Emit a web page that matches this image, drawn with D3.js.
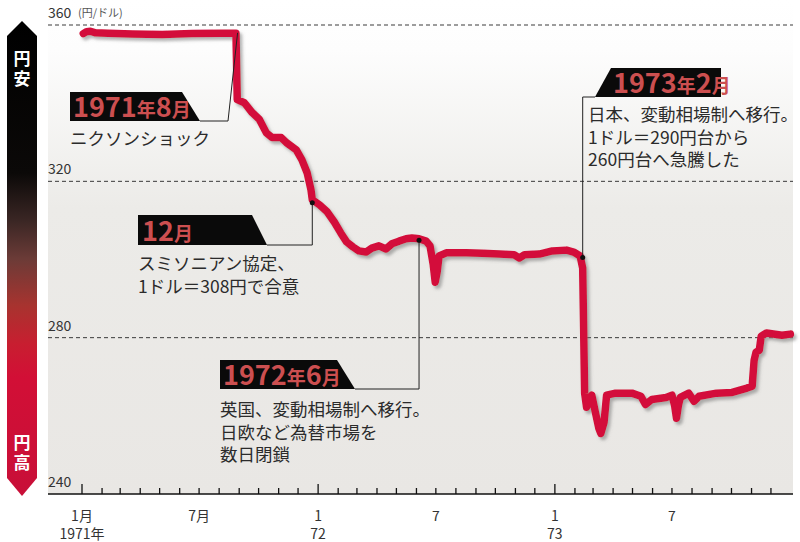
<!DOCTYPE html>
<html><head><meta charset="utf-8">
<script src="https://cdn.jsdelivr.net/npm/d3@7/dist/d3.min.js"></script>
<style>
html,body{margin:0;padding:0;background:#fff;}
svg{display:block;font-family:"Noto Sans CJK JP","Noto Sans",sans-serif;}
</style></head>
<body>
<svg id="chart" width="800" height="542"></svg>
<script>
// ---- data ----
const dates = ["1971-01-03","1971-01-08","1971-01-14","1971-01-22","1971-02-10","1971-03-20","1971-05-05","1971-06-20","1971-08-05","1971-08-27",
"1971-08-29","1971-09-09","1971-09-21","1971-10-02","1971-10-13","1971-10-22","1971-11-05","1971-11-13","1971-11-28","1971-12-07","1971-12-15","1971-12-21","1971-12-23",
"1972-01-03","1972-01-15","1972-01-26","1972-02-05","1972-02-14","1972-02-24","1972-03-04","1972-03-15","1972-03-24","1972-04-04","1972-04-15","1972-04-24","1972-05-05","1972-05-16","1972-05-25","1972-06-05","1972-06-16","1972-06-22","1972-06-27","1972-06-30","1972-07-03","1972-07-06","1972-07-17","1972-08-17","1972-09-10","1972-10-07","1972-10-30","1972-11-07","1972-11-15","1972-12-08","1972-12-28",
"1973-01-19","1973-01-30","1973-02-09","1973-02-13","1973-02-16","1973-02-19","1973-02-24","1973-02-27","1973-03-05","1973-03-10","1973-03-13","1973-03-18","1973-03-22","1973-04-05","1973-04-30","1973-05-14","1973-05-21","1973-05-31","1973-06-22","1973-07-01","1973-07-05","1973-07-08","1973-07-11","1973-07-14","1973-07-27","1973-08-04","1973-08-12","1973-09-08","1973-10-02","1973-10-25","1973-11-02","1973-11-05","1973-11-08","1973-11-13","1973-11-16","1973-11-24","1973-12-18","1973-12-31"];
const rates = [357.8,358.3,358.4,358.0,357.9,357.7,357.6,357.8,357.9,357.9,
340.9,340.1,337.6,335.9,332.4,331.2,331.2,329.9,328.1,325.5,322.2,317.8,315.3,
314.0,312.2,309.6,306.8,304.5,303.2,302.2,301.9,302.9,303.5,302.7,304.0,304.7,305.3,305.5,305.3,304.7,303.5,298.6,294.2,296.8,300.9,301.7,301.7,301.6,301.4,301.2,300.4,301.2,301.4,302.2,
302.4,301.9,300.9,297.8,265.8,262.2,264.5,265.3,260.6,256.8,255.5,258.3,265.3,265.8,265.8,265.0,262.9,264.2,264.7,265.3,262.7,259.4,262.7,264.7,265.8,263.7,265.0,265.8,266.0,267.1,267.6,274.2,276.3,276.8,280.4,281.2,280.6,280.9];

const yTicks = [240, 280, 320, 360];
const yUnit = "(円/ドル)";
const xTickLabels = [
  {date:"1971-01-01", l1:"1月", l2:"1971年"},
  {date:"1971-07-01", l1:"7月", l2:""},
  {date:"1972-01-01", l1:"1", l2:"72"},
  {date:"1972-07-01", l1:"7", l2:""},
  {date:"1973-01-01", l1:"1", l2:"73"},
  {date:"1973-07-01", l1:"7", l2:""}
];
const arrowTop = ["円","安"], arrowBottom = ["円","高"];
// annotation events: date/value of pointed-to point, title pieces, body lines
const events = [
  {date:"1971-08-28", value:358.0, title:[["1971","d"],["年","k"],["8","d"],["月","k"]], body:["ニクソンショック"]},
  {date:"1971-12-23", value:314.5, title:[["12","d"],["月","k"]], body:["スミソニアン協定、","1ドル＝308円で合意"]},
  {date:"1972-06-05", value:304.9, title:[["1972","d"],["年","k"],["6","d"],["月","k"]], body:["英国、変動相場制へ移行。","日欧など為替市場を","数日閉鎖"]},
  {date:"1973-02-13", value:300.5, title:[["1973","d"],["年","k"],["2","d"],["月","k"]], body:["日本、変動相場制へ移行。","1ドル＝290円台から","260円台へ急騰した"]}
];

// ---- layout ----
const svg = d3.select("#chart");
const parse = d3.timeParse("%Y-%m-%d");
const plotL = 48, plotR = 793, axisY = 494;
const x = d3.scaleTime().domain([parse("1971-01-01"), parse("1974-01-01")]).range([82, 791]);
const y = d3.scaleLinear().domain([240, 360]).range([axisY, 25]);

const defs = svg.append("defs");
const bg = defs.append("linearGradient").attr("id","bg").attr("x1",0).attr("y1",0).attr("x2",0).attr("y2",1);
[[0,"#ffffff"],[0.1,"#fdfdfd"],[0.42,"#ecebe8"],[1,"#e9e7e4"]].forEach(s=>bg.append("stop").attr("offset",s[0]).attr("stop-color",s[1]));
const ag = defs.append("linearGradient").attr("id","arrowg").attr("x1",0).attr("y1",0).attr("x2",0).attr("y2",1);
[[0,"#000"],[0.32,"#0b0908"],[0.42,"#3a2624"],[0.5,"#6b3b37"],[0.6,"#a8332f"],[0.68,"#c81e30"],[0.75,"#d20f36"],[1,"#c80f38"]].forEach(s=>ag.append("stop").attr("offset",s[0]).attr("stop-color",s[1]));
const sh = defs.append("filter").attr("id","shadow").attr("x","-10%").attr("y","-10%").attr("width","130%").attr("height","130%");
sh.append("feDropShadow").attr("dx",2.5).attr("dy",3).attr("stdDeviation",1.6).attr("flood-color","#6b6b6b").attr("flood-opacity",0.5);

// plot background
svg.append("rect").attr("x",plotL).attr("y",0).attr("width",plotR-plotL).attr("height",axisY).attr("fill","url(#bg)");

// left arrow
const aT=21, aB=496, aL=7, aR=37, aC=22;
svg.append("path").attr("d",`M${aC},${aT}L${aR},${aT+15}L${aR},${aB-18}L${aC},${aB}L${aL},${aB-18}L${aL},${aT+15}Z`).attr("fill","url(#arrowg)");
[[arrowTop,65],[arrowBottom,449]].forEach(([chars,y0])=>{
  const t = svg.append("text").attr("x",aC).attr("y",y0).attr("text-anchor","middle").attr("fill","#fff")
    .attr("font-size",17).attr("font-weight",700);
  chars.forEach((c,j)=>t.append("tspan").attr("x",aC).attr("dy",j===0?0:20).text(c));
});

// grid lines
svg.append("g").selectAll("line").data(yTicks.filter(v=>v>240)).join("line")
  .attr("x1",plotL).attr("x2",plotR).attr("y1",d=>y(d)).attr("y2",d=>y(d))
  .attr("stroke","#3a3a3a").attr("stroke-width",1).attr("stroke-dasharray","4,3");
// y labels
svg.append("g").selectAll("text").data(yTicks).join("text")
  .attr("x",plotL).attr("y",d=>y(d)-7).attr("font-size",14).attr("fill","#333").text(d=>d);
svg.append("text").attr("x",78).attr("y",y(360)-8).attr("font-size",11).attr("fill","#555").text(yUnit);

// x axis
const months = d3.timeMonth.range(parse("1971-01-01"), parse("1974-01-01"));
svg.append("line").attr("x1",plotL).attr("x2",plotR).attr("y1",axisY).attr("y2",axisY).attr("stroke","#111").attr("stroke-width",1.6);
svg.append("g").selectAll("line").data(months).join("line")
  .attr("x1",d=>x(d)).attr("x2",d=>x(d)).attr("y1",axisY)
  .attr("y2",d=>axisY-(d.getMonth()===0?10:6)).attr("stroke","#111").attr("stroke-width",1.3);
svg.append("g").selectAll("text").data(xTickLabels).join("text")
  .attr("y",521).attr("text-anchor","middle").attr("font-size",14).attr("fill","#333")
  .each(function(d){
    const t = d3.select(this), cx = x(parse(d.date));
    t.append("tspan").attr("x",cx).text(d.l1);
    if(d.l2) t.append("tspan").attr("x",cx).attr("dy",18).text(d.l2);
  });

// the rate line
const pts = dates.map((d,i)=>({date:parse(d), v:rates[i]}));
svg.append("path").datum(pts)
  .attr("d", d3.line().x(d=>x(d.date)).y(d=>y(d.v)))
  .attr("fill","none").attr("stroke","#d3103a").attr("stroke-width",7.5)
  .attr("stroke-linejoin","round").attr("stroke-linecap","round").attr("filter","url(#shadow)");

// annotations (box/text positions)
const boxes = [
  {poly:[[70,92],[182,92],[200,121],[70,121]], tx:73, ty:117, leader:[[200,121],[228,121]], textX:70, textY:145, dot:false},
  {poly:[[138,215],[252,215],[267,245],[138,245]], tx:142, ty:241, leader:[[267,245]], textX:138, textY:270, dot:true},
  {poly:[[220,360],[337,360],[355,389],[220,389]], tx:223, ty:385, leader:[[355,389]], textX:220, textY:416, dot:true},
  {poly:[[595,97],[611,68],[721,68],[721,97]], tx:613, ty:93, leader:[[595,97]], textX:588, textY:121, dot:true}
];
events.forEach((ev,i)=>{
  const b = boxes[i];
  const px = x(parse(ev.date)), py = y(ev.value);
  const g = svg.append("g");
  let lp;
  if(i===0) lp = [...b.leader, [px+1, py]];
  else lp = [...b.leader, [px, b.leader[0][1]], [px, py]];
  g.append("path").attr("d", d3.line()(lp)).attr("fill","none").attr("stroke","#222").attr("stroke-width",1);
  if(b.dot) g.append("circle").attr("cx",px).attr("cy",py).attr("r",2.5).attr("fill","#111");
  g.append("path").attr("d", d3.line()(b.poly)+"Z").attr("fill","#0a0a0a");
  const t = g.append("text").attr("x",b.tx).attr("y",b.ty).attr("fill","#cc4f50").attr("font-weight",700);
  ev.title.forEach(p=>t.append("tspan").attr("font-size",p[1]==="d"?27:19).text(p[0]));
  const bt = g.append("text").attr("x",b.textX).attr("y",b.textY).attr("font-size",17.5).attr("fill","#2b2b2b");
  ev.body.forEach((line,j)=>bt.append("tspan").attr("x",b.textX).attr("dy",j===0?0:22.5).text(line));
});
</script>
</body></html>
